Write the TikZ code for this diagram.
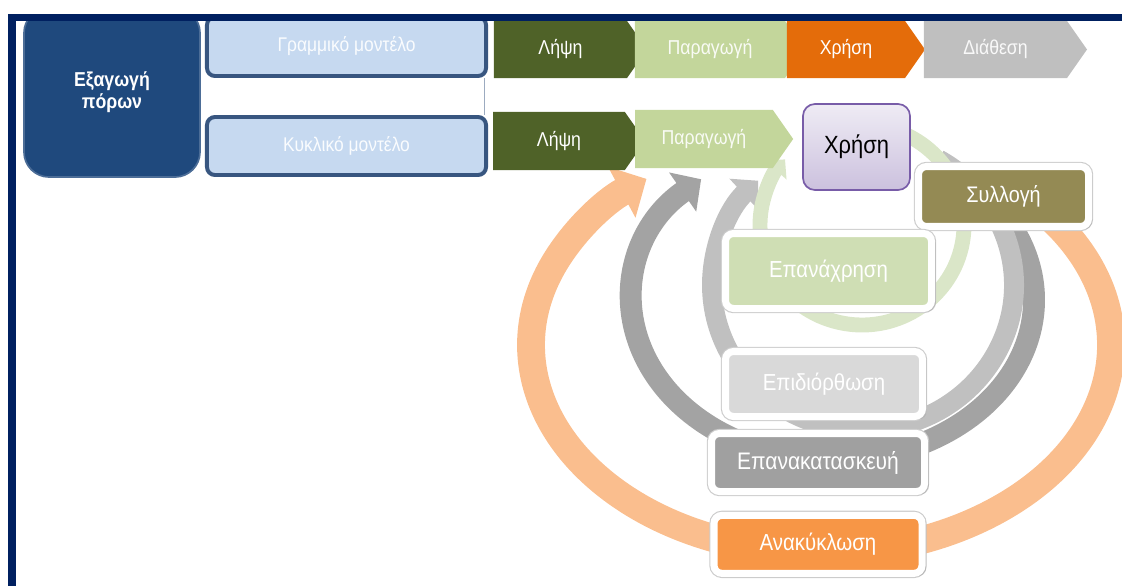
\documentclass[tikz,border=0pt]{standalone}
\usepackage{fontspec}
\setmainfont[FakeStretch=0.88]{Liberation Sans}
\usetikzlibrary{arrows.meta,positioning,shapes.symbols,shadows}
\definecolor{frameblue}{RGB}{0,32,96}
\definecolor{extblue}{RGB}{31,73,125}
\definecolor{modelblue}{RGB}{198,217,240}
\definecolor{modeledge}{RGB}{56,86,128}
\definecolor{takegreen}{RGB}{79,98,40}
\definecolor{prodgreen}{RGB}{195,214,155}
\definecolor{useorange}{RGB}{228,108,10}
\definecolor{dispgrey}{RGB}{191,191,191}
\definecolor{usepurple}{RGB}{120,92,168}
\definecolor{collolive}{RGB}{148,138,84}
\definecolor{reusegreen}{RGB}{207,222,180}
\definecolor{repairgrey}{RGB}{217,217,217}
\definecolor{rebuildgrey}{RGB}{160,160,160}
\definecolor{recycorange}{RGB}{247,150,70}
\definecolor{ringorange}{RGB}{250,190,142}
\definecolor{ringdark}{RGB}{163,163,163}
\definecolor{ringlight}{RGB}{192,192,192}
\definecolor{ringgreen}{RGB}{218,230,200}

\begin{document}
\begin{tikzpicture}[
      x=0.025cm, y=-0.025cm,
      chev/.style={signal, signal to=east, signal pointer angle=110, inner sep=0pt,
                   minimum height=1.425cm, text=white, font=\fontsize{14.3}{16}\selectfont},
      model/.style={draw=modeledge, line width=2.8pt, fill=modelblue, rounded corners=0.2cm,
                    minimum width=6.975cm, text=white!92!modelblue, font=\fontsize{14.1}{16}\selectfont},
      loopbox/.style={draw=white, line width=5pt, rounded corners=0.2cm, text=white,
                      font=\fontsize{16.5}{18}\selectfont,
                      preaction={draw=black!20, line width=6.6pt},
                      drop shadow={shadow xshift=0.8pt, shadow yshift=-1.4pt, opacity=0.25, shadow scale=1.03}},
      ring/.style={line cap=butt}
    ]
    \useasboundingbox (0,0) rectangle (1122,586);

    % Centres of the loops
    \coordinate (o_c) at (821,345);
    \coordinate (g_c) at (833,300);
    \coordinate (l_c) at (863,285);
    \coordinate (r_c) at (862,225);

    % Loops (behind the boxes)
    \draw[ring, ringorange, line width=19.8pt, -{Triangle[width=40pt,length=20pt]}]
      (o_c) ++(-38:290 and 208) arc[start angle=-38, end angle=233, x radius=290, y radius=208];
    \draw[ring, ringdark, line width=15.6pt, -{Triangle[width=33pt,length=16pt]}]
      (g_c) ++(-35:201 and 160) arc[start angle=-35, end angle=229, x radius=201, y radius=160];
    \draw[ring, ringlight, line width=14.2pt, -{Triangle[width=29pt,length=14pt]}]
      (l_c) ++(-60:151 and 145) arc[start angle=-60, end angle=226, x radius=151, y radius=145];
    \draw[ring, ringgreen, line width=10.6pt, -{Triangle[width=20pt,length=10pt]}]
      (r_c) ++(-80:102 and 100) arc[start angle=-80, end angle=221, x radius=102, y radius=100];

    % Resource extraction and the two models
    \node (ext) [draw=extblue!80!white, line width=1.2pt, fill=extblue, rounded corners=0.625cm,
                 minimum width=4.4cm, minimum height=4.225cm, text=white, align=center,
                 font=\bfseries\fontsize{14.3}{15.6}\selectfont] at (112,92.5) {Εξαγωγή\\πόρων};
    \node (lin) [model, minimum height=1.475cm] at (346.5,46.5) {Γραμμικό μοντέλο};
    \node (cyc) [model, minimum height=1.45cm]  at (346.5,146)  {Κυκλικό μοντέλο};
    \draw[modeledge!50!white, thin] ([xshift=-2.5pt]lin.south east) -- ([xshift=-2.5pt]cyc.north east);

    % Linear chain
    \node (t_1) [chev, fill=takegreen, minimum width=3.825cm] at (560.5,49.5) {Λήψη};
    \node (t_2) [chev, fill=prodgreen, minimum width=4.25cm, text=white!90!prodgreen] at (710,49.5) {Παραγωγή};
    \node (t_3) [chev, fill=useorange, minimum width=3.45cm]  at (846,49.5)    {Χρήση};
    \node (t_4) [chev, fill=dispgrey, minimum width=4.075cm, text=white!90!dispgrey] at (995.5,49.5) {Διάθεση};

    % Circular chain
    \node (c_1) [chev, fill=takegreen, minimum width=3.8cm, minimum height=1.45cm] at (559,141) {Λήψη};
    \node (c_2) [chev, fill=prodgreen, minimum width=3.95cm, minimum height=1.45cm,
                 text=white!90!prodgreen] at (704,139) {Παραγωγή};
    \node (use) [draw=usepurple, line width=1.2pt, rounded corners=0.3cm, top color=usepurple!12,
                 bottom color=usepurple!38, minimum width=2.675cm, minimum height=2.15cm,
                 font=\fontsize{17.7}{20}\selectfont] at (856.5,147) {Χρήση};
    \node (coll)    [loopbox, fill=collolive, minimum width=4.25cm, minimum height=1.5cm,
                     font=\fontsize{16}{18}\selectfont] at (1003.5,196.5) {Συλλογή};
    \node (reuse)   [loopbox, fill=reusegreen, minimum width=5.15cm, minimum height=1.875cm]
                    at (828.5,271) {Επανάχρηση};
    \node (repair)  [loopbox, fill=repairgrey, minimum width=4.925cm, minimum height=1.625cm]
                    at (824,384) {Επιδιόρθωση};
    \node (rebuild) [loopbox, fill=rebuildgrey, minimum width=5.325cm, minimum height=1.45cm,
                     font=\fontsize{17}{19}\selectfont] at (818,462.5) {Επανακατασκευή};
    \node (recyc)   [loopbox, fill=recycorange, minimum width=5.2cm, minimum height=1.45cm,
                     below=0.42cm of rebuild] {Ανακύκλωση};

    % Frame
    \fill[white] (0,0) rectangle (1122,14);
    \fill[frameblue] (8,14) rectangle (1122,21);
    \fill[frameblue] (8,14) rectangle (16,586);
  \end{tikzpicture}
\end{document}
